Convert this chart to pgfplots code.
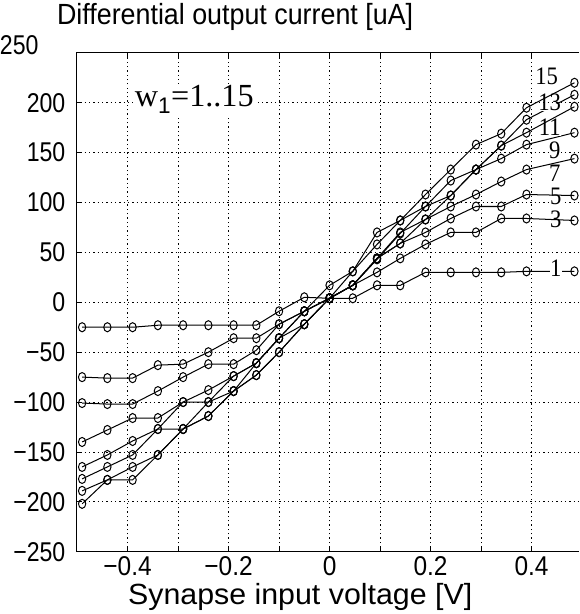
\documentclass[border=0pt]{standalone}
\usepackage{pgfplots}
\pgfplotsset{compat=1.18}
\usepackage{fontspec}
\setmainfont{Liberation Sans}
\newfontfamily\timesfont{Liberation Serif}

\pgfplotsset{curve/.style={black, line width=1pt, mark=o, mark size=4.5bp,
    mark options={xscale=0.8, solid, line width=1pt}}}

\begin{document}
\begin{tikzpicture}
  \begin{axis}[
    width=498bp, height=494bp, scale only axis,
    xmin=-0.502, xmax=0.494,
    ymin=-250, ymax=250,
    xtick={-0.4,-0.2,0,0.2,0.4},
    xticklabels={−0.4,−0.2,0,0.2,0.4},
    minor xtick={-0.3,-0.1,0.1,0.3},
    ytick={-250,-200,...,200},
    yticklabels={−250,−200,−150,−100,−50,0,50,100,150,200},
    extra y ticks={250}, extra y tick labels={},
    axis x line*=box, axis y line*=left,
    axis line style={black, line width=1.1pt},
    tick align=inside, major tick length=5bp, minor tick length=5bp,
    tick style={black, line width=0.7pt},
    grid=both,
    major grid style={black, line width=0.7pt, dash pattern=on 1.3pt off 3pt},
    minor grid style={black, line width=0.7pt, dash pattern=on 1.3pt off 3pt},
    yticklabel style={font=\fontsize{27}{30}\selectfont, xscale=0.85, xshift=-9bp},
    xticklabel style={font=\fontsize{27}{30}\selectfont, xscale=0.9, yshift=-1bp},
    xlabel={Synapse input voltage [V]},
    xlabel style={font=\fontsize{29}{32}\selectfont, xscale=1.04, xshift=-26bp, yshift=-1bp},
    ]
    % w1 = 1
    \addplot[curve] coordinates {(-0.49,-25)(-0.44,-25)(-0.39,-25)(-0.34,-23)(-0.29,-23)(-0.24,-23)(-0.19,-23)(-0.145,-23)(-0.1,-9)(-0.05,5)(0,4)(0.046,4)(0.094,17)(0.14,17)(0.19,30)(0.24,30)(0.29,30)(0.34,30)(0.39,31)(0.485,31)};
    % w1 = 3
    \addplot[curve] coordinates {(-0.49,-75)(-0.44,-76)(-0.39,-76)(-0.34,-63)(-0.29,-62)(-0.24,-50)(-0.19,-36)(-0.145,-36)(-0.1,-22)(-0.05,-9)(0,4)(0.046,17)(0.094,30)(0.14,44)(0.19,58)(0.24,70)(0.29,70)(0.34,84)(0.39,84)(0.485,82)};
    % w1 = 5
    \addplot[curve] coordinates {(-0.49,-101)(-0.44,-102)(-0.39,-102)(-0.34,-89)(-0.29,-75)(-0.24,-62)(-0.19,-62)(-0.145,-48)(-0.1,-22)(-0.05,-9)(0,4)(0.046,17)(0.094,44)(0.14,59)(0.19,70)(0.24,84)(0.29,96)(0.34,96)(0.39,108)(0.485,107)};
    % w1 = 7
    \addplot[curve] coordinates {(-0.49,-140)(-0.44,-128)(-0.39,-116)(-0.34,-116)(-0.29,-100)(-0.24,-88)(-0.19,-74)(-0.145,-61)(-0.1,-36)(-0.05,-22)(0,4)(0.046,17)(0.094,44)(0.14,70)(0.19,83)(0.24,96)(0.29,108)(0.34,121)(0.39,133)(0.485,144)};
    % w1 = 9
    \addplot[curve] coordinates {(-0.49,-165)(-0.44,-153)(-0.39,-139)(-0.34,-127)(-0.29,-100)(-0.24,-100)(-0.19,-74)(-0.145,-61)(-0.1,-36)(-0.05,-9)(0,4)(0.046,17)(0.094,44)(0.14,59)(0.19,83)(0.24,107)(0.29,133)(0.34,144)(0.39,158)(0.485,170)};
    % w1 = 11
    \addplot[curve] coordinates {(-0.49,-177)(-0.44,-165)(-0.39,-153)(-0.34,-127)(-0.29,-127)(-0.24,-100)(-0.19,-89)(-0.145,-73)(-0.1,-50)(-0.05,-22)(0,4)(0.046,31)(0.094,58)(0.14,82)(0.19,96)(0.24,122)(0.29,133)(0.34,157)(0.39,170)(0.485,196)};
    % w1 = 13
    \addplot[curve] coordinates {(-0.49,-189)(-0.44,-178)(-0.39,-165)(-0.34,-153)(-0.29,-127)(-0.24,-114)(-0.19,-89)(-0.145,-73)(-0.1,-50)(-0.05,-22)(0,4)(0.046,17)(0.094,43)(0.14,69)(0.19,96)(0.24,107)(0.29,133)(0.34,157)(0.39,183)(0.485,208)};
    % w1 = 15
    \addplot[curve] coordinates {(-0.49,-202)(-0.44,-178)(-0.39,-178)(-0.34,-153)(-0.29,-127)(-0.24,-114)(-0.19,-89)(-0.145,-61)(-0.1,-36)(-0.05,-9)(0,17)(0.046,31)(0.094,70)(0.14,82)(0.19,108)(0.24,133)(0.29,158)(0.34,169)(0.39,195)(0.485,220)};

    % curve labels
    \begin{scope}[every node/.style={fill=white, inner sep=0.4pt,
        text height=0.64em, text depth=0pt,
        font=\timesfont\fontsize{25}{25}\selectfont, xscale=0.9}]
      \node at (axis cs:0.430,221) {15};
      \node at (axis cs:0.436,195) {13};
      \node at (axis cs:0.436,170) {11};
      \node at (axis cs:0.446,147) {9};
      \node at (axis cs:0.446,124) {7};
      \node at (axis cs:0.448,101) {5};
      \node at (axis cs:0.448,78) {3};
      \node at (axis cs:0.448,29) {1};
    \end{scope}
    \node[fill=white, inner sep=2pt, font=\timesfont\fontsize{32}{32}\selectfont]
      at (axis cs:-0.268,203) {w$_{\mathrm{1}}$=1..15};

    \coordinate (tl) at (rel axis cs:0,1);
  \end{axis}
  \node[anchor=south west, inner sep=0pt, font=\fontsize{29}{32}\selectfont, xscale=0.92]
    (title) at ([xshift=-19bp, yshift=22bp]tl) {Differential output current [uA]};
  \path ([yshift=3bp]title.north) coordinate (pad);
  \node[anchor=east, inner sep=0pt, font=\fontsize{27}{30}\selectfont, xscale=0.85]
    at ([xshift=-37bp, yshift=8bp]tl) {250};
\end{tikzpicture}
\end{document}
